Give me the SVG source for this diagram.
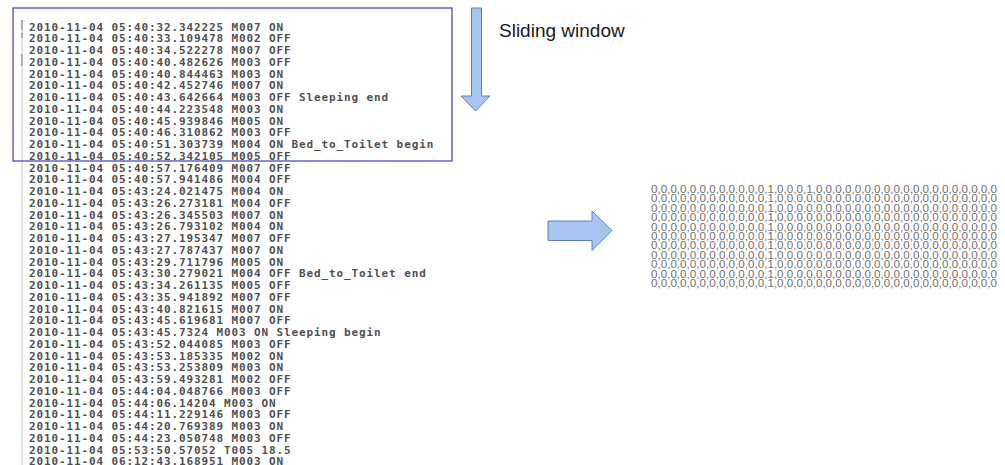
<svg xmlns="http://www.w3.org/2000/svg" width="1005" height="465" viewBox="0 0 1005 465">
<style>
.log{font-family:"DejaVu Sans Mono","Liberation Mono",monospace;font-size:11px;font-weight:bold;fill:#505050;letter-spacing:0.88px}
.mx{font-family:"Liberation Sans",Arial,sans-serif;font-size:11px;fill:#707070}
.lbl{font-family:"Liberation Sans",Arial,sans-serif;font-size:19px;fill:#1a1a1a}
.blk{fill:#a8c4f0;stroke:#5f7fb8;stroke-width:1}
</style>
<rect width="1005" height="465" fill="#ffffff"/>
<g id="log-panel">
<line x1="22" y1="20" x2="22" y2="465" stroke="#cfcfcf" stroke-width="1.2"/>
<line x1="22" y1="20" x2="22" y2="30" stroke="#8a8a8a" stroke-width="1.2"/>
<line x1="22" y1="33" x2="22" y2="38" stroke="#8a8a8a" stroke-width="1.2"/>
<line x1="22" y1="54" x2="22" y2="66" stroke="#8a8a8a" stroke-width="1.2"/>
<g class="log">
<text x="29" y="30.5">2010-11-04 05:40:32.342225 M007 ON</text>
<text x="29" y="42.25">2010-11-04 05:40:33.109478 M002 OFF</text>
<text x="29" y="54">2010-11-04 05:40:34.522278 M007 OFF</text>
<text x="29" y="65.75">2010-11-04 05:40:40.482626 M003 OFF</text>
<text x="29" y="77.5">2010-11-04 05:40:40.844463 M003 ON</text>
<text x="29" y="89.25">2010-11-04 05:40:42.452746 M007 ON</text>
<text x="29" y="101">2010-11-04 05:40:43.642664 M003 OFF Sleeping end</text>
<text x="29" y="112.75">2010-11-04 05:40:44.223548 M003 ON</text>
<text x="29" y="124.5">2010-11-04 05:40:45.939846 M005 ON</text>
<text x="29" y="136.25">2010-11-04 05:40:46.310862 M003 OFF</text>
<text x="29" y="148">2010-11-04 05:40:51.303739 M004 ON Bed_to_Toilet begin</text>
<text x="29" y="159.75">2010-11-04 05:40:52.342105 M005 OFF</text>
<text x="29" y="171.5">2010-11-04 05:40:57.176409 M007 OFF</text>
<text x="29" y="183.25">2010-11-04 05:40:57.941486 M004 OFF</text>
<text x="29" y="195">2010-11-04 05:43:24.021475 M004 ON</text>
<text x="29" y="206.75">2010-11-04 05:43:26.273181 M004 OFF</text>
<text x="29" y="218.5">2010-11-04 05:43:26.345503 M007 ON</text>
<text x="29" y="230.25">2010-11-04 05:43:26.793102 M004 ON</text>
<text x="29" y="242">2010-11-04 05:43:27.195347 M007 OFF</text>
<text x="29" y="253.75">2010-11-04 05:43:27.787437 M007 ON</text>
<text x="29" y="265.5">2010-11-04 05:43:29.711796 M005 ON</text>
<text x="29" y="277.25">2010-11-04 05:43:30.279021 M004 OFF Bed_to_Toilet end</text>
<text x="29" y="289">2010-11-04 05:43:34.261135 M005 OFF</text>
<text x="29" y="300.75">2010-11-04 05:43:35.941892 M007 OFF</text>
<text x="29" y="312.5">2010-11-04 05:43:40.821615 M007 ON</text>
<text x="29" y="324.25">2010-11-04 05:43:45.619681 M007 OFF</text>
<text x="29" y="336">2010-11-04 05:43:45.7324 M003 ON Sleeping begin</text>
<text x="29" y="347.75">2010-11-04 05:43:52.044085 M003 OFF</text>
<text x="29" y="359.5">2010-11-04 05:43:53.185335 M002 ON</text>
<text x="29" y="371.25">2010-11-04 05:43:53.253809 M003 ON</text>
<text x="29" y="383">2010-11-04 05:43:59.493281 M002 OFF</text>
<text x="29" y="394.75">2010-11-04 05:44:04.048766 M003 OFF</text>
<text x="29" y="406.5">2010-11-04 05:44:06.14204 M003 ON</text>
<text x="29" y="418.25">2010-11-04 05:44:11.229146 M003 OFF</text>
<text x="29" y="430">2010-11-04 05:44:20.769389 M003 ON</text>
<text x="29" y="441.75">2010-11-04 05:44:23.050748 M003 OFF</text>
<text x="29" y="453.5">2010-11-04 05:53:50.57052 T005 18.5</text>
<text x="29" y="465.25">2010-11-04 06:12:43.168951 M003 ON</text>
</g>
</g>
<g id="sliding-window">
<rect x="13" y="8" width="439" height="153" fill="none" stroke="#3d3db0" stroke-width="1.2"/>
</g>
<g id="label">
<text class="lbl" x="499" y="37">Sliding window</text>
</g>
<g id="connectors">
<path class="blk" d="M471.5,8 H481.5 V96 H490 L475.5,111 L461,96 H471.5 Z"/>
<path class="blk" d="M548,221 H592 V211 L612,230.5 L592,250.5 V240.5 H548 Z"/>
</g>
<g id="matrix" class="mx">
<text x="651" y="193" textLength="346" lengthAdjust="spacingAndGlyphs">0,0,0,0,0,0,0,0,0,0,0,0,1,0,0,0,1,0,0,0,0,0,0,0,0,0,0,0,0,0,0,0,0,0,0,0</text>
<text x="651" y="202.4" textLength="346" lengthAdjust="spacingAndGlyphs">0,0,0,0,0,0,0,0,0,0,0,0,1,0,0,0,0,0,0,0,0,0,0,0,0,0,0,0,0,0,0,0,0,0,0,0</text>
<text x="651" y="211.8" textLength="346" lengthAdjust="spacingAndGlyphs">0,0,0,0,0,0,0,0,0,0,0,0,1,0,0,0,0,0,0,0,0,0,0,0,0,0,0,0,0,0,0,0,0,0,0,0</text>
<text x="651" y="221.2" textLength="346" lengthAdjust="spacingAndGlyphs">0,0,0,0,0,0,0,0,0,0,0,0,1,0,0,0,0,0,0,0,0,0,0,0,0,0,0,0,0,0,0,0,0,0,0,0</text>
<text x="651" y="230.6" textLength="346" lengthAdjust="spacingAndGlyphs">0,0,0,0,0,0,0,0,0,0,0,0,1,0,0,0,0,0,0,0,0,0,0,0,0,0,0,0,0,0,0,0,0,0,0,0</text>
<text x="651" y="240" textLength="346" lengthAdjust="spacingAndGlyphs">0,0,0,0,0,0,0,0,0,0,0,0,1,0,0,0,0,0,0,0,0,0,0,0,0,0,0,0,0,0,0,0,0,0,0,0</text>
<text x="651" y="249.4" textLength="346" lengthAdjust="spacingAndGlyphs">0,0,0,0,0,0,0,0,0,0,0,0,1,0,0,0,0,0,0,0,0,0,0,0,0,0,0,0,0,0,0,0,0,0,0,0</text>
<text x="651" y="258.8" textLength="346" lengthAdjust="spacingAndGlyphs">0,0,0,0,0,0,0,0,0,0,0,0,1,0,0,0,0,0,0,0,0,0,0,0,0,0,0,0,0,0,0,0,0,0,0,0</text>
<text x="651" y="268.2" textLength="346" lengthAdjust="spacingAndGlyphs">0,0,0,0,0,0,0,0,0,0,0,0,1,0,0,0,0,0,0,0,0,0,0,0,0,0,0,0,0,0,0,0,0,0,0,0</text>
<text x="651" y="277.6" textLength="346" lengthAdjust="spacingAndGlyphs">0,0,0,0,0,0,0,0,0,0,0,0,1,0,0,0,0,0,0,0,0,0,0,0,0,0,0,0,0,0,0,0,0,0,0,0</text>
<text x="651" y="287" textLength="346" lengthAdjust="spacingAndGlyphs">0,0,0,0,0,0,0,0,0,0,0,0,1,0,0,0,0,0,0,0,0,0,0,0,0,0,0,0,0,0,0,0,0,0,0,0</text>
</g>
</svg>
